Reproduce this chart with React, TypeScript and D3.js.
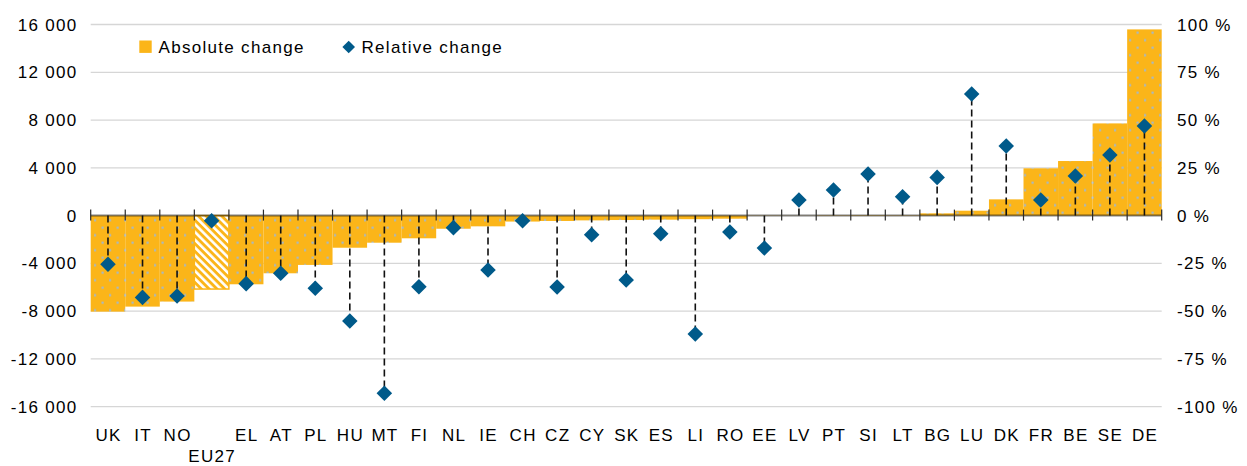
import React from "react";
import * as d3 from "d3";

const categories = ["UK","IT","NO","EU27","EL","AT","PL","HU","MT","FI","NL","IE","CH","CZ","CY","SK","ES","LI","RO","EE","LV","PT","SI","LT","BG","LU","DK","FR","BE","SE","DE"];
const absChange = [-8040,-7620,-7200,-6150,-5750,-4830,-4130,-2690,-2270,-1900,-1100,-900,-500,-450,-400,-370,-340,-300,-260,-20,10,30,40,30,190,410,1360,3960,4570,7720,15590];
const relChange = [-25.5,-42.8,-42.1,-2.7,-35.6,-30.2,-38,-55.2,-93,-37.2,-6.3,-28.5,-2.7,-37.4,-10,-33.7,-9.5,-62,-8.6,-17,8.2,13.4,21.8,9.9,20,63.6,36.4,8.2,20.7,31.7,46.9];
const leftTicks = [-16000,-12000,-8000,-4000,0,4000,8000,12000,16000];
const rightTicks = [-100,-75,-50,-25,0,25,50,75,100];
const hatched = ["EU27"];
const legendLabels = ["Absolute change","Relative change"];

const W = 1247, H = 466;
const ORANGE = "#fbb519";
const BLUE = "#005a8a";
const FONT = "'Liberation Sans', Arial, sans-serif";

const fmtNum = (v: number) => {
  const s = d3.format(",")(v).replace(/,/g, " ");
  return s.replace("−", "-");
};

export default function App() {
  const x = d3.scaleBand<string>().domain(categories).range([90.7, 1161.7]).padding(0);
  const yL = d3.scaleLinear().domain([-16000, 16000]).range([406.7, 24.5]);
  const yR = d3.scaleLinear().domain([-100, 100]).range([406.7, 24.5]);
  const y0 = yL(0);
  const bw = x.bandwidth();
  const diamond = d3.symbol().type(d3.symbolSquare).size(121)();
  const legendDiamond = d3.symbol().type(d3.symbolSquare).size(80)();
  const boundaries = d3.range(categories.length + 1).map(i => 90.7 + i * bw);
  const textStyle = { fontFamily: FONT, fontSize: 17, letterSpacing: 1.3, fill: "#000" } as const;

  return (
    <svg width={W} height={H} style={{ position: "absolute", left: 0, top: 0, display: "block", background: "#fff" }}>
      <defs>
        <pattern id="dots" patternUnits="userSpaceOnUse" width={15} height={15} x={91} y={y0}>
          <rect width={15} height={15} fill={ORANGE} />
          <rect x={3} y={3.5} width={2.2} height={2.2} fill="#a8b8c2" />
          <rect x={10.5} y={11} width={2.2} height={2.2} fill="#a8b8c2" />
        </pattern>
        <pattern id="hatch" patternUnits="userSpaceOnUse" width={5.5} height={5.5} patternTransform="rotate(-45)">
          <rect width={5.5} height={5.5} fill={ORANGE} />
          <rect width={2.6} height={5.5} fill="#fff" />
        </pattern>
      </defs>

      {/* gridlines */}
      {leftTicks.filter(t => t !== 0).map(t => (
        <line key={t} x1={90.7} x2={1161.7} y1={yL(t)} y2={yL(t)} stroke="#d6d6d6" strokeWidth={1.3} />
      ))}

      {/* bars */}
      {categories.map((c, i) => {
        const v = absChange[i];
        const yt = Math.min(yL(v), y0);
        const h = Math.abs(yL(v) - y0);
        const isH = hatched.includes(c);
        return (
          <rect key={c} x={x(c)!} y={yt} width={bw} height={h}
            fill={isH ? "url(#hatch)" : "url(#dots)"}
            stroke={isH ? ORANGE : "none"} strokeWidth={isH ? 1.5 : 0} />
        );
      })}

      {/* zero axis */}
      <line x1={90.7} x2={1161.7} y1={y0} y2={y0} stroke="#000" strokeOpacity={0.5} strokeWidth={2} />
      {boundaries.map((bx, i) => (
        <line key={i} x1={bx} x2={bx} y1={y0 - 6} y2={y0 + 5} stroke="#2a2a2a" strokeWidth={1.2} />
      ))}

      {/* drop lines */}
      {categories.map((c, i) => (
        <line key={c} x1={x(c)! + bw / 2} x2={x(c)! + bw / 2} y1={y0} y2={yR(relChange[i])}
          stroke="#111" strokeWidth={1.6} strokeDasharray="7,4" />
      ))}

      {/* diamonds */}
      {categories.map((c, i) => (
        <path key={c} d={diamond!} fill={BLUE}
          transform={`translate(${x(c)! + bw / 2},${yR(relChange[i])}) rotate(45)`} />
      ))}

      {/* left axis labels */}
      {leftTicks.map(t => (
        <text key={t} x={77.5} y={yL(t)} dy="0.36em" textAnchor="end" style={textStyle}>{fmtNum(t)}</text>
      ))}
      {/* right axis labels */}
      {rightTicks.map(t => (
        <text key={t} x={1177} y={yR(t)} dy="0.36em" textAnchor="start" style={textStyle}>{`${t} %`}</text>
      ))}

      {/* category labels */}
      {categories.map(c => (
        <text key={c} x={x(c)! + bw / 2 + 0.6} y={c === "EU27" ? 462 : 440.7} textAnchor="middle" style={textStyle}>{c}</text>
      ))}

      {/* legend */}
      <rect x={139.3} y={40.5} width={12.4} height={12.4} fill={ORANGE} />
      <text x={158.5} y={46.7} dy="0.36em" style={textStyle}>{legendLabels[0]}</text>
      <path d={legendDiamond!} fill={BLUE} transform="translate(348.7,47) rotate(45)" />
      <text x={361.5} y={46.7} dy="0.36em" style={textStyle}>{legendLabels[1]}</text>
    </svg>
  );
}
